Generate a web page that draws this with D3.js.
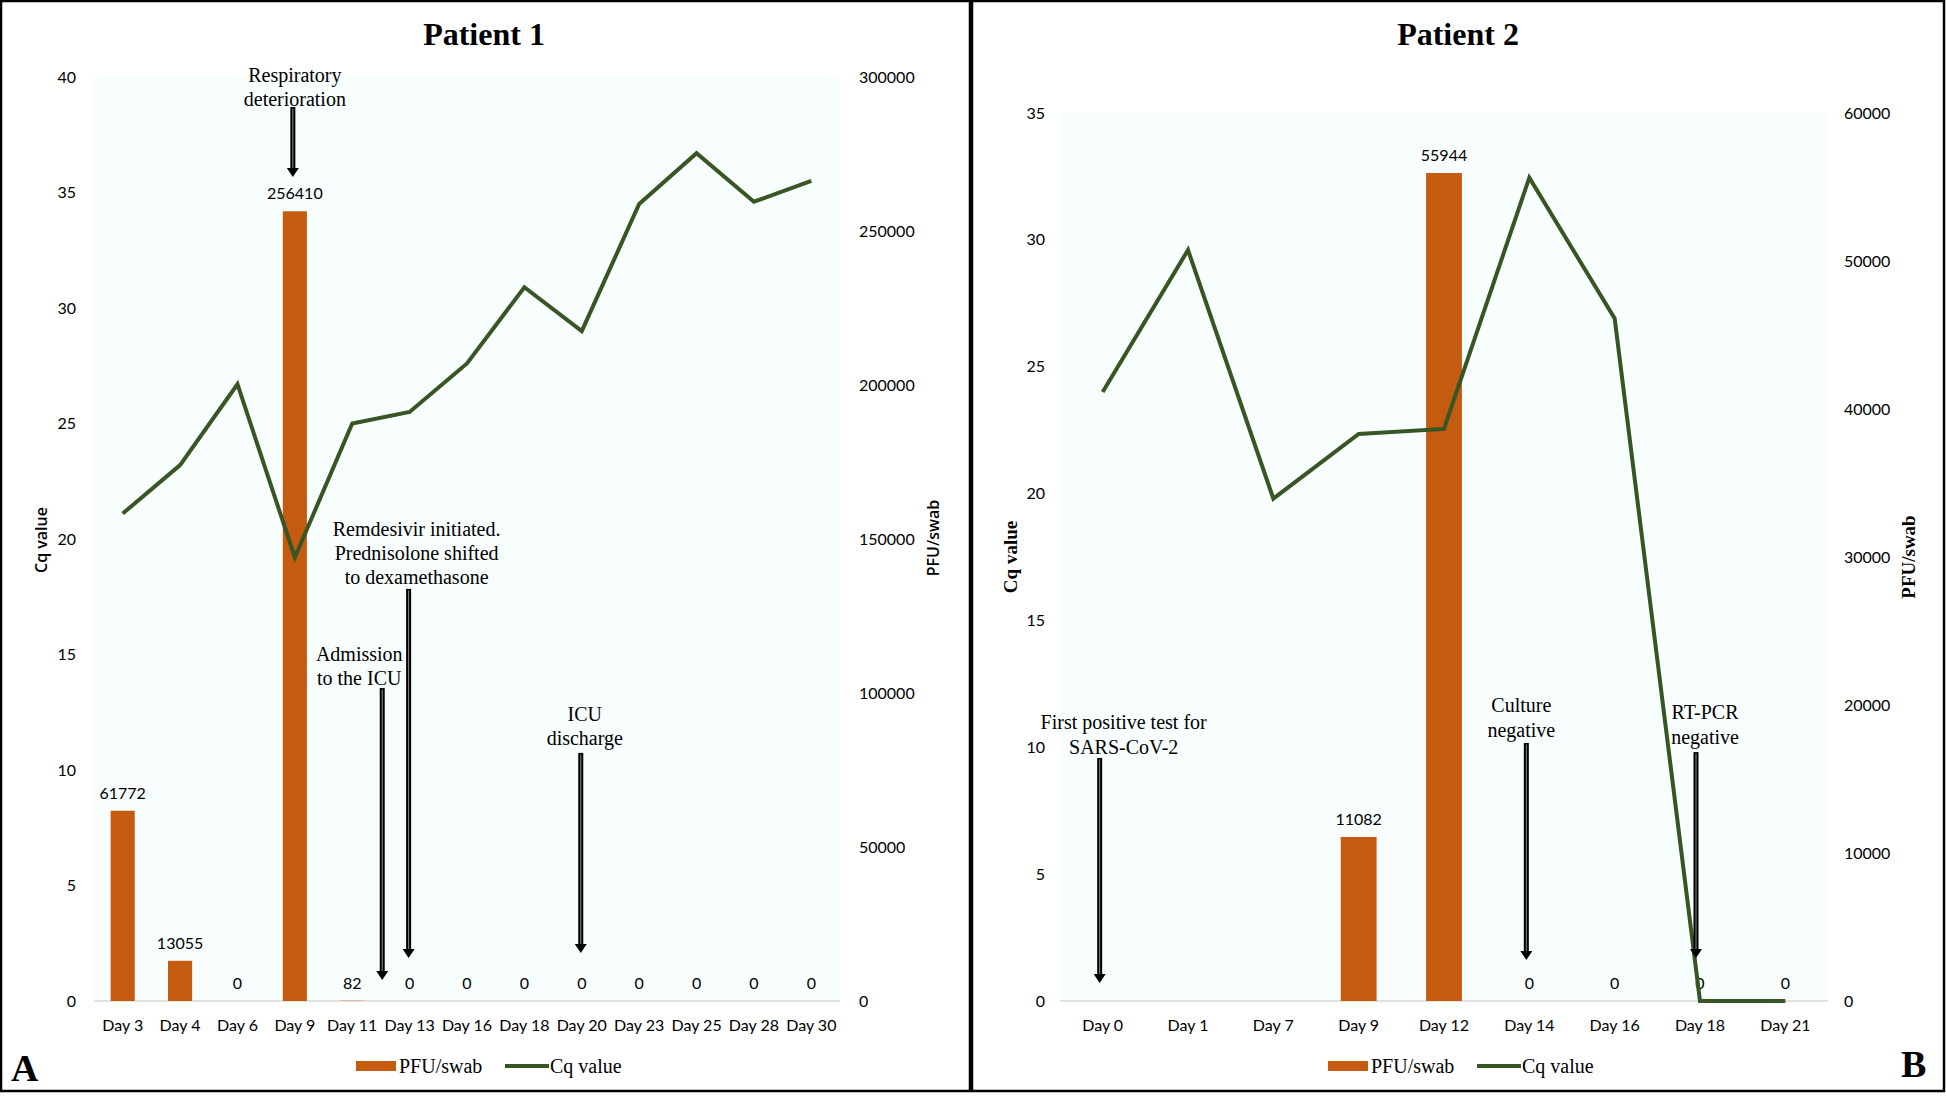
<!DOCTYPE html>
<html>
<head>
<meta charset="utf-8">
<script src="https://cdn.jsdelivr.net/npm/d3@7"></script>
<style>
  html, body { margin: 0; padding: 0; background: #ffffff; }
  svg { display: block; }
</style>
</head>
<body>
<svg id="chart" width="1946" height="1096"></svg>
<script>
// ---------------- DATA ----------------
const p1Days = ["Day 3","Day 4","Day 6","Day 9","Day 11","Day 13","Day 16","Day 18","Day 20","Day 23","Day 25","Day 28","Day 30"];
const p1Pfu  = [61772, 13055, 0, 256410, 82, 0, 0, 0, 0, 0, 0, 0, 0];
const p1Cq   = [21.1, 23.2, 26.7, 19.2, 25.0, 25.5, 27.6, 30.9, 29.0, 34.5, 36.7, 34.6, 35.5];
const p1CqTicks  = [0, 5, 10, 15, 20, 25, 30, 35, 40];
const p1PfuTicks = [0, 50000, 100000, 150000, 200000, 250000, 300000];

const p2Days = ["Day 0","Day 1","Day 7","Day 9","Day 12","Day 14","Day 16","Day 18","Day 21"];
const p2Pfu  = [null, null, null, 11082, 55944, 0, 0, 0, 0];
const p2Cq   = [24.0, 29.6, 19.8, 22.35, 22.55, 32.45, 26.9, 0, 0];
const p2CqTicks  = [0, 5, 10, 15, 20, 25, 30, 35];
const p2PfuTicks = [0, 10000, 20000, 30000, 40000, 50000, 60000];

const p1Notes = [
  { day: "Day 9",  lines: ["Respiratory", "deterioration"] },
  { day: "Day 11", lines: ["Admission", "to the ICU"] },
  { day: "Day 13", lines: ["Remdesivir initiated.", "Prednisolone shifted", "to dexamethasone"] },
  { day: "Day 20", lines: ["ICU", "discharge"] }
];
const p2Notes = [
  { day: "Day 0",  lines: ["First positive test for", "SARS-CoV-2"] },
  { day: "Day 14", lines: ["Culture", "negative"] },
  { day: "Day 18", lines: ["RT-PCR", "negative"] }
];

// ---------------- LAYOUT / STYLE ----------------
const BAR = "#c55a11", LINE = "#375623", BG = "#f8fdfd";
const SANS = "Lato, 'Open Sans', sans-serif";
const SERIF = "'Liberation Serif', 'Times New Roman', serif";

const svg = d3.select("#chart");

// frames
svg.append("rect").attr("x", 1).attr("y", 1).attr("width", 969).attr("height", 1090)
  .attr("fill", "none").attr("stroke", "#000").attr("stroke-width", 2.5);
svg.append("rect").attr("x", 972).attr("y", 1).attr("width", 972).attr("height", 1090)
  .attr("fill", "none").attr("stroke", "#000").attr("stroke-width", 2.5);
svg.append("line").attr("x1", 971).attr("x2", 971).attr("y1", 0).attr("y2", 1092)
  .attr("stroke", "#000").attr("stroke-width", 4);

function drawPanel(cfg) {
  const g = svg.append("g");
  const x = d3.scaleBand().domain(cfg.days).range([cfg.left, cfg.right])
    .paddingInner(0.58).paddingOuter(0.29);
  const yL = d3.scaleLinear().domain([0, cfg.cqMax]).range([cfg.bottom, cfg.top]);
  const yR = d3.scaleLinear().domain([0, cfg.pfuMax]).range([cfg.bottom, cfg.top]);
  const cx = d => x(d) + x.bandwidth() / 2;

  // plot background
  g.append("rect").attr("x", cfg.left).attr("y", cfg.top)
    .attr("width", cfg.right - cfg.left).attr("height", cfg.bottom - cfg.top)
    .attr("fill", BG);
  g.append("line").attr("x1", cfg.left).attr("x2", cfg.right)
    .attr("y1", cfg.bottom).attr("y2", cfg.bottom)
    .attr("stroke", "#d9d9d9").attr("stroke-width", 1.5);

  // title
  g.append("text").attr("x", cfg.titleX).attr("y", 45).attr("text-anchor", "middle")
    .attr("font-family", SERIF).attr("font-weight", "bold").attr("font-size", 32)
    .text(cfg.title);

  // axes
  const axL = g.append("g").attr("transform", `translate(${cfg.left},0)`)
    .call(d3.axisLeft(yL).tickValues(cfg.cqTicks).tickSize(0).tickPadding(cfg.lPad).tickFormat(d3.format("d")));
  const axR = g.append("g").attr("transform", `translate(${cfg.right},0)`)
    .call(d3.axisRight(yR).tickValues(cfg.pfuTicks).tickSize(0).tickPadding(cfg.rPad).tickFormat(d3.format("d")));
  const axB = g.append("g").attr("transform", `translate(0,${cfg.bottom})`)
    .call(d3.axisBottom(x).tickSize(0).tickPadding(19));
  [axL, axR, axB].forEach(a => {
    a.select(".domain").remove();
    a.selectAll("text").attr("font-family", SANS).attr("font-size", 16).attr("fill", "#000");
  });

  // axis titles
  const tL = g.append("text").attr("transform", `translate(${cfg.cqTitle[0]},${cfg.cqTitle[1]}) rotate(-90)`)
    .attr("text-anchor", "middle").attr("dominant-baseline", "central").text("Cq value");
  const tR = g.append("text").attr("transform", `translate(${cfg.pfuTitle[0]},${cfg.pfuTitle[1]}) rotate(-90)`)
    .attr("text-anchor", "middle").attr("dominant-baseline", "central").text("PFU/swab");
  [tL, tR].forEach(t => t.attr("font-family", cfg.titleSerif ? SERIF : "'Open Sans', sans-serif")
    .attr("font-size", cfg.titleSerif ? 19 : 16)
    .attr("font-weight", cfg.titleSerif ? "bold" : 600));

  // bars
  const barData = cfg.days.map((d, i) => ({ d, v: cfg.pfu[i] })).filter(e => e.v !== null);
  g.selectAll(".bar").data(barData).join("rect")
    .attr("x", e => x(e.d)).attr("width", x.bandwidth())
    .attr("y", e => yR(e.v)).attr("height", e => cfg.bottom - yR(e.v))
    .attr("fill", BAR);
  g.selectAll(".lbl").data(barData).join("text")
    .attr("x", e => cx(e.d)).attr("y", e => yR(e.v) - 12)
    .attr("text-anchor", "middle").attr("font-family", SANS).attr("font-size", 16)
    .text(e => e.v);

  // line
  const line = d3.line().x((v, i) => cx(cfg.days[i])).y(v => yL(v));
  g.append("path").datum(cfg.cq).attr("d", line).attr("fill", "none")
    .attr("stroke", LINE).attr("stroke-width", 4).attr("stroke-linejoin", "miter");

  // annotations
  cfg.notes.forEach((n, k) => {
    const L = cfg.noteLayout[k];
    const tx = cx(n.day) + L.tdx;
    const ax = cx(n.day) + L.adx;
    const b1 = yL(L.base);
    n.lines.forEach((s, j) => {
      g.append("text").attr("x", tx).attr("y", b1 + j * cfg.lineGap)
        .attr("text-anchor", "middle").attr("font-family", SERIF).attr("font-size", 20)
        .text(s);
    });
    const y1 = yL(L.top), y2 = yL(L.tip);
    g.append("rect").attr("x", ax - 2.5).attr("y", y1).attr("width", 5).attr("height", y2 - y1 - 7)
      .attr("fill", "#000");
    g.append("line").attr("x1", ax).attr("x2", ax).attr("y1", y1 + 1.5).attr("y2", y2 - 8)
      .attr("stroke", "#8a8a8a").attr("stroke-width", 1);
    g.append("path").attr("d", `M${ax - 6},${y2 - 9} L${ax + 6},${y2 - 9} L${ax},${y2} Z`).attr("fill", "#000");
  });

  // legend
  const lx = cfg.legendX, ly = 1066;
  g.append("rect").attr("x", lx).attr("y", ly - 5).attr("width", 40).attr("height", 10).attr("fill", BAR);
  g.append("text").attr("x", lx + 43).attr("y", ly + 7).attr("font-family", SERIF).attr("font-size", 20).text("PFU/swab");
  g.append("line").attr("x1", lx + 149).attr("x2", lx + 193).attr("y1", ly).attr("y2", ly)
    .attr("stroke", LINE).attr("stroke-width", 4);
  g.append("text").attr("x", lx + 194).attr("y", ly + 7).attr("font-family", SERIF).attr("font-size", 20).text("Cq value");

  // panel letter
  g.append("text").attr("x", cfg.letter[0]).attr("y", cfg.letter[1])
    .attr("font-family", SERIF).attr("font-weight", "bold").attr("font-size", 38).text(cfg.letterText);
}

drawPanel({
  title: "Patient 1", titleX: 484, letterText: "A", letter: [11, 1081],
  days: p1Days, pfu: p1Pfu, cq: p1Cq, cqTicks: p1CqTicks, pfuTicks: p1PfuTicks,
  cqMax: 40, pfuMax: 300000,
  left: 94, right: 840, top: 77, bottom: 1001, lPad: 18, rPad: 19,
  cqTitle: [41, 540], pfuTitle: [933, 538], titleSerif: false,
  legendX: 356, lineGap: 24,
  notes: p1Notes,
  noteLayout: [
    { tdx: 0,  adx: -2, base: 39.78, top: 38.70, tip: 35.67 },
    { tdx: 7,  adx: 30, base: 14.72, top: 13.55, tip: 0.91 },
    { tdx: 7,  adx: -1, base: 20.13, top: 17.84, tip: 1.86 },
    { tdx: 3,  adx: -1, base: 12.12, top: 10.74, tip: 2.08 }
  ]
});

drawPanel({
  title: "Patient 2", titleX: 1458, letterText: "B", letter: [1901, 1077],
  days: p2Days, pfu: p2Pfu, cq: p2Cq, cqTicks: p2CqTicks, pfuTicks: p2PfuTicks,
  cqMax: 35, pfuMax: 60000,
  left: 1060, right: 1828, top: 113, bottom: 1001, lPad: 15, rPad: 16,
  cqTitle: [1010, 557], pfuTitle: [1908, 557], titleSerif: true,
  legendX: 1328, lineGap: 25,
  notes: p2Notes,
  noteLayout: [
    { tdx: 21, adx: -3, base: 10.72, top: 9.58, tip: 0.71 },
    { tdx: -8, adx: -3, base: 11.39, top: 10.17, tip: 1.62 },
    { tdx: 5,  adx: -4, base: 11.12, top: 9.81, tip: 1.69 }
  ]
});
</script>
</body>
</html>
